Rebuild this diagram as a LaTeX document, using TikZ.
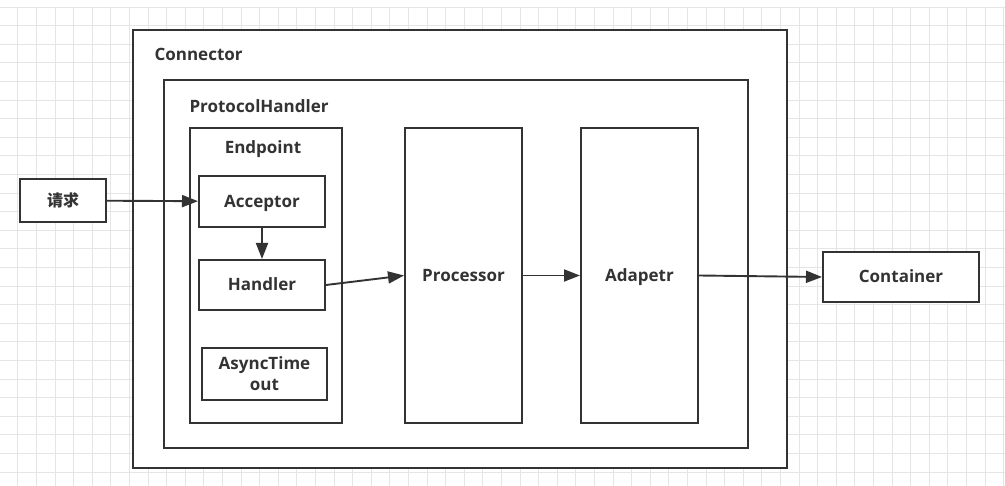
\documentclass[tikz,border=0pt]{standalone}
\usepackage{fontspec}
\setmainfont{Open Sans}
\newfontfamily\cjk{Noto Sans CJK SC}
\usetikzlibrary{positioning,arrows.meta}

\begin{document}
\begin{tikzpicture}[x=1pt,y=-1pt,
    box/.style={draw=black!80, line width=2pt, fill=white, inner sep=0pt,
      font=\bfseries\fontsize{17}{20}\selectfont, text=black!80, align=center,
      text height=14pt, text depth=2pt},
    title/.style={font=\bfseries\fontsize{17}{20}\selectfont, text=black!80},
    link/.style={-{Triangle[length=16pt,width=12pt]}, line width=1.9pt, black!80}]
\useasboundingbox (0,0) rectangle (1005,486);
\fill[white] (0,0) rectangle (1005,486);
% light grid behind
\foreach \gx in {0,...,54}
  \draw[black!10, line width=0.6pt] (-1+18.6*\gx,7) -- (-1+18.6*\gx,486);
\foreach \gy in {0,...,25}
  \draw[black!10, line width=0.6pt] (0,7+18.6*\gy) -- (1005,7+18.6*\gy);

% containers
\node[box, minimum width=654pt, minimum height=438pt] (connector) at (460,249) {};
\node[title, anchor=west] (connectorlbl) at (151,54) {Connector};
\node[box, minimum width=584pt, minimum height=368pt] (protocol) at (456,264) {};
\node[title, anchor=west] (protocollbl) at (186,106) {ProtocolHandler};
\node[box, minimum width=152pt, minimum height=295pt] (endpoint) at (266,275.5) {};
\node[title] (endpointlbl) at (263,149) {Endpoint};

% inner boxes
\node[box, minimum width=126pt, minimum height=51pt] (acceptor) at (262,201.5) {Acceptor};
\node[box, minimum width=126pt, minimum height=50pt] (handler) at (262,285) {Handler};
\node[box, minimum width=125pt, minimum height=52pt, text height=, text depth=,
      font=\bfseries\fontsize{17}{21}\selectfont] (async) at (264.5,374) {AsyncTime\\out};
\node[box, minimum width=117pt, minimum height=295pt] (processor) at (463.5,275.5) {Processor};
\node[box, minimum width=117pt, minimum height=295pt] (adapetr) at (639.5,275.5) {Adapetr};

% outside
\node[box, minimum width=86pt, minimum height=43pt, font=\cjk\bfseries\fontsize{16}{19}\selectfont] (req) at (63,200.5) {请求};
\node[box, minimum width=156pt, minimum height=50pt] (container) at (901,277) {Container};

\draw[link] (req) -- (acceptor);
\draw[link] (acceptor) -- (handler);
\draw[link] (handler.east) -- (processor.west);
\draw[link] (processor) -- (adapetr);
\draw[link] (adapetr.east) -- (container.west);
\end{tikzpicture}
\end{document}
